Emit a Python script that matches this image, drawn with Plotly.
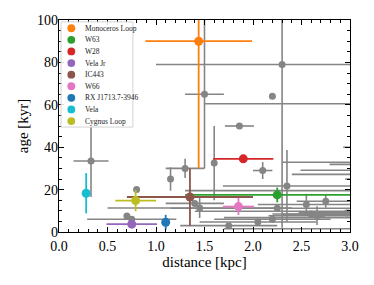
import plotly.graph_objects as go

# ---------------- data ----------------
snr_names = ["Monoceros Loop", "W63", "W28", "Vela Jr", "IC443", "W66",
             "RX J1713.7-3946", "Vela", "Cygnus Loop"]
snr_colors = ["#ff7f0e", "#2ca02c", "#d62728", "#9467bd", "#8c564b", "#e377c2",
              "#1f77b4", "#17becf", "#bcbd22"]
snr_dist = [1.44, 2.25, 1.90, 0.75, 1.35, 1.85, 1.10, 0.28, 0.79]
snr_dist_err = [0.55, 0.95, 0.31, 0.26, 0.65, 0.16, 0.0, 0.0, 0.21]
snr_age = [90.0, 17.5, 34.5, 3.7, 16.5, 12.0, 4.6, 18.3, 14.8]
snr_age_err = [60.0, 3.5, 0.0, 0.0, 13.5, 4.0, 3.5, 9.5, 5.0]

gray_dist = [2.30, 1.50, 2.20, 1.86, 1.60, 1.30, 1.15, 0.33, 0.80, 0.70, 0.75,
             2.10, 2.35, 1.40, 1.45, 2.25, 2.55, 2.75, 2.66, 2.60, 2.71, 1.75,
             2.05, 2.20, 2.97, 3.50, 3.30, 3.50, 3.40, 3.40, 3.50, 3.50, 3.30,
             3.40, 3.30, 3.20]
gray_age = [79.0, 65.0, 64.0, 50.0, 32.5, 30.0, 25.0, 33.5, 20.0, 7.5, 6.0,
            29.0, 21.7, 13.5, 11.3, 11.2, 13.0, 14.5, 7.7, 8.5, 8.3, 3.0,
            4.7, 6.0, 9.0, 60.5, 32.9, 31.9, 29.1, 27.2, 40.0, 25.0, 1.5,
            19.5, 9.8, 6.8]
gray_dist_err = [1.30, 0.20, 0.0, 0.15, 0.0, 0.20, 0.0, 0.18, 0.0, 0.0, 0.46,
                 0.10, 0.66, 0.30, 0.95, 1.10, 0.50, 0.30, 0.50, 0.40, 0.40, 0.50,
                 0.60, 0.60, 0.50, 2.00, 1.00, 0.71, 0.91, 1.00, 0.57, 0.55, 1.60,
                 2.10, 1.90, 1.50]
gray_age_err = [77.0, 35.0, 0.0, 0.0, 17.5, 4.5, 5.5, 17.0, 0.0, 0.0, 0.0,
                4.0, 17.0, 0.0, 4.7, 0.0, 5.0, 3.0, 4.4, 0.0, 0.0, 0.0,
                0.0, 0.0, 0.0, 0.0, 0.0, 0.0, 0.0, 0.0, 0.0, 0.0, 0.0,
                0.0, 0.0, 0.0]

x_ticks = [0.0, 0.5, 1.0, 1.5, 2.0, 2.5, 3.0]
y_ticks = [0, 20, 40, 60, 80, 100]

FONT = "Liberation Serif, DejaVu Serif, serif"
GRAY = "#858585"

fig = go.Figure()

fig.add_trace(go.Scatter(
    x=gray_dist, y=gray_age, mode="markers",
    marker=dict(color=GRAY, size=7),
    error_x=dict(type="data", array=gray_dist_err, color=GRAY, thickness=1.6, width=0),
    error_y=dict(type="data", array=gray_age_err, color=GRAY, thickness=1.6, width=0),
    showlegend=False, hoverinfo="skip"))

for i, name in enumerate(snr_names):
    fig.add_trace(go.Scatter(
        x=[snr_dist[i]], y=[snr_age[i]], mode="markers", name=name,
        marker=dict(color=snr_colors[i], size=9),
        error_x=dict(type="data", array=[snr_dist_err[i]], color=snr_colors[i],
                     thickness=1.8, width=0),
        error_y=dict(type="data", array=[snr_age_err[i]], color=snr_colors[i],
                     thickness=1.8, width=0),
        showlegend=False))

# ---------------- manual legend ----------------
fig.add_shape(type="rect", xref="paper", yref="paper",
              x0=0.007, x1=0.254, y0=0.495, y1=0.991,
              line=dict(color="#d4d4d4", width=1),
              fillcolor="rgba(255,255,255,0.85)", layer="above")
row0, step = 0.961, 0.0547
for i, name in enumerate(snr_names):
    yy = row0 - i * step
    fig.add_shape(type="circle", xref="paper", yref="paper",
                  xsizemode="pixel", ysizemode="pixel",
                  xanchor=0.0423, yanchor=yy, x0=-3.9, x1=3.9, y0=-3.9, y1=3.9,
                  fillcolor=snr_colors[i], line=dict(width=0), layer="above")
    fig.add_annotation(xref="paper", yref="paper", x=0.0825, y=yy, text=name,
                       showarrow=False, xanchor="left", yanchor="middle",
                       font=dict(family=FONT, size=7.5, color="#222222"))

axis_common = dict(
    showline=True, linecolor="black", linewidth=1.2, mirror="ticks",
    ticks="inside", ticklen=5, tickwidth=1, tickcolor="black",
    showgrid=False, zeroline=False, automargin=False,
    tickfont=dict(family=FONT, size=14, color="black"),
)

fig.update_xaxes(range=[0, 3], tickvals=x_ticks, tickformat=".1f",
                 ticklabelstandoff=1,
                 minor=dict(ticks="inside", ticklen=3, tickwidth=1,
                            tickcolor="black", dtick=0.1, showgrid=False),
                 title=dict(text="distance [kpc]", standoff=0,
                            font=dict(family=FONT, size=15, color="black")),
                 **axis_common)
fig.update_yaxes(range=[0, 100], tickvals=y_ticks,
                 ticklabelstandoff=-3,
                 minor=dict(ticks="inside", ticklen=3, tickwidth=1,
                            tickcolor="black", dtick=5, showgrid=False),
                 title=dict(text="age [kyr]", standoff=4,
                            font=dict(family=FONT, size=15, color="black")),
                 **axis_common)

fig.update_layout(
    width=366, height=277,
    margin=dict(l=51, r=24, t=12, b=53),
    paper_bgcolor="white", plot_bgcolor="white",
    font=dict(family=FONT, color="black"),
)

fig.write_html("out.html")
